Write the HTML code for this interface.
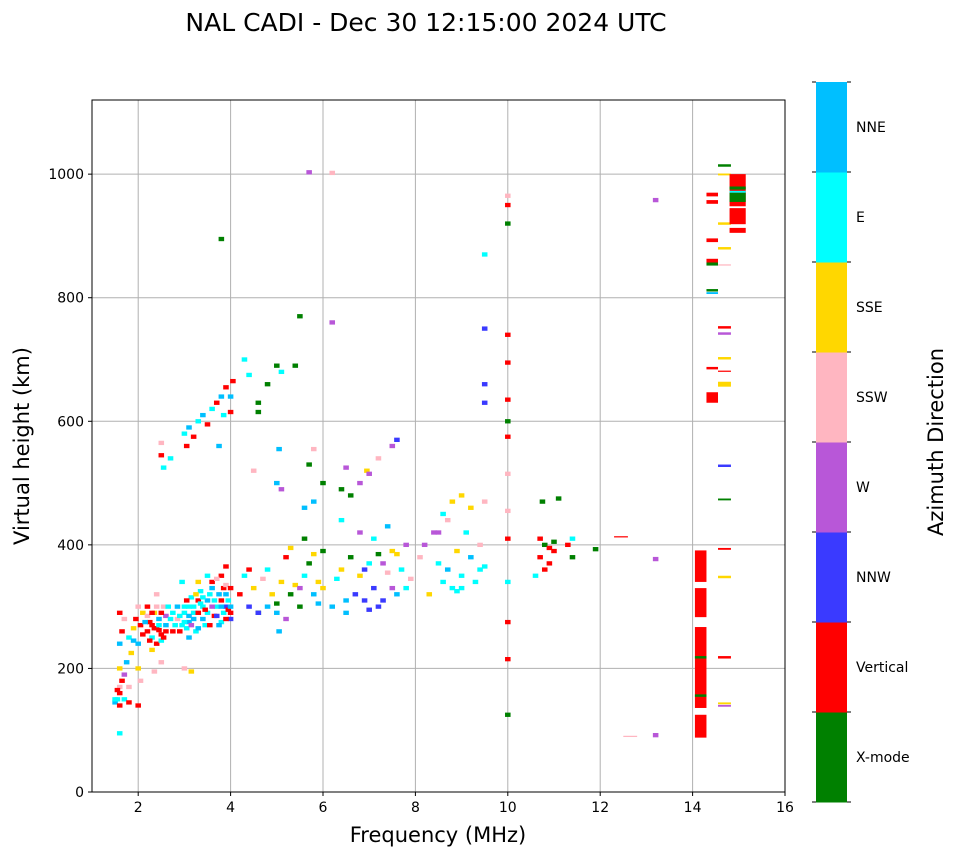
<!DOCTYPE html>
<html><head><meta charset="utf-8">
<style>
body{margin:0;background:#fff;}
svg{display:block;font-family:"DejaVu Sans","Liberation Sans",sans-serif;}
</style></head>
<body>
<svg id="chart" width="958" height="857" viewBox="0 0 958 857" xmlns="http://www.w3.org/2000/svg">
<text x="426" y="31" font-size="25" text-anchor="middle">NAL CADI - Dec 30 12:15:00 2024 UTC</text>
<g id="grid"></g>
<g id="marks"></g>
<rect x="92" y="100" width="693" height="692" fill="none" stroke="#000" stroke-width="1"/>
<g id="axes"></g>
<text x="438" y="842" font-size="21" text-anchor="middle">Frequency (MHz)</text>
<text transform="translate(29,446) rotate(-90)" font-size="21" text-anchor="middle">Virtual height (km)</text>
<g id="cbar"></g>
<text transform="translate(943,442) rotate(-90)" font-size="21" text-anchor="middle">Azimuth Direction</text>
</svg>
<script>
const dirNames=["X-mode","Vertical","NNW","W","SSW","SSE","E","NNE"];
const dirColors=["#008000","#ff0000","#3a3aff","#b857d8","#ffb6c1","#ffd700","#00ffff","#00bfff"];
const xTicks=[2,4,6,8,10,12,14,16];
const yTicks=[0,200,400,600,800,1000];
// points: [freq MHz, height km, direction index]
const points=[
[1.5,145,7],[1.55,150,6],[1.6,140,1],[1.6,160,1],[1.6,170,4],[1.65,180,1],[1.7,190,3],[1.7,150,6],[1.6,200,5],[1.75,210,7],[1.8,145,1],[1.8,170,4],[1.85,225,5],[1.6,240,7],[1.65,260,1],[1.7,280,4],[1.6,290,1],[1.8,250,6],[1.9,265,5],[1.95,280,1],[2.0,300,4],[2.0,140,1],[2.0,240,7],[2.05,270,1],[2.1,290,5],[2.05,180,4],[2.0,200,5],[1.6,95,6],[1.5,150,6],[1.55,165,1],
[2.2,260,1],[2.25,275,1],[2.3,250,6],[2.35,290,5],[2.4,265,1],[2.45,280,7],[2.5,255,1],[2.4,240,1],[2.3,230,5],[2.55,300,4],[2.6,270,7],[2.2,300,1],[2.4,320,4],[2.5,210,4],[2.35,195,4],[2.6,285,3],[2.5,245,6],[2.3,270,1],[2.45,262,1],[2.55,250,1],
[2.2,285,4],[2.25,245,1],[2.35,265,1],[2.45,270,6],[2.5,290,1],[2.6,260,1],[2.65,300,6],[2.75,290,6],[2.75,260,1],[2.85,280,4],[2.95,270,6],[3.0,300,6],[3.05,265,6],[3.1,275,7],[3.2,290,6],[3.25,260,6],[3.3,310,1],[3.4,300,6],[3.45,270,6],[3.5,290,6],[3.55,320,6],[3.65,285,1],[3.7,300,6],[3.75,320,7],[3.8,275,6],[3.85,330,1],[3.9,300,2],[3.95,310,6],[4.0,290,1],[2.1,255,1],[2.15,275,7],[1.9,245,7],[2.3,290,1],[2.4,300,4],[3.15,315,6],[3.35,325,6],[3.6,340,1],[3.8,350,1],[3.9,335,4],
[2.7,280,6],[2.8,270,6],[2.85,300,7],[2.9,260,1],[3.0,290,6],[3.0,275,6],[3.05,310,1],[3.1,285,7],[3.2,300,6],[3.15,270,3],[3.25,320,5],[3.3,290,1],[3.35,305,6],[3.4,280,7],[3.45,295,1],[3.5,310,7],[3.55,270,1],[3.6,300,3],[3.6,330,7],[3.7,285,2],[3.75,270,7],[3.8,310,1],[3.85,290,6],[3.9,320,7],[3.95,295,1],[4.0,330,1],[4.0,280,2],[3.1,250,7],[2.95,340,6],[3.3,340,5],[3.5,350,6],[3.7,345,4],[3.9,365,1],[3.0,200,4],[3.15,195,5],[2.9,285,6],[3.1,300,6],[3.2,280,7],[3.4,315,6],[3.65,310,6],[3.8,300,7],[3.9,280,1],[4.0,300,7],[3.3,265,7],
[4.2,320,1],[4.3,350,6],[4.4,300,2],[4.5,330,5],[4.6,290,0],[4.7,345,4],[4.8,360,6],[4.9,320,5],[5.0,305,0],[5.1,340,5],[5.2,380,1],[5.3,320,0],[5.4,335,5],[5.5,300,0],[5.6,350,6],[5.7,370,0],[5.8,320,7],[5.9,340,5],[6.0,390,0],[5.2,280,3],[4.8,300,7],[5.0,290,7],[5.5,330,3],[5.9,305,7],[6.0,330,5],[4.6,290,2],[5.05,260,7],[4.4,360,1],[5.3,395,5],[5.6,410,0],[5.8,385,5],
[6.2,300,7],[6.3,345,6],[6.4,360,5],[6.5,310,7],[6.6,380,0],[6.7,320,2],[6.8,350,5],[6.9,310,2],[7.0,370,6],[7.1,330,2],[7.2,385,0],[7.3,310,2],[7.4,355,4],[7.5,390,5],[7.6,320,7],[7.7,360,6],[7.8,400,3],[7.9,345,4],[6.5,290,7],[7.0,295,2],[7.2,300,2],[7.5,330,3],[7.8,330,6],[6.8,420,3],[7.1,410,6],[7.4,430,7],[6.9,360,2],[7.3,370,3],[7.6,385,5],
[8.1,380,4],[8.2,400,3],[8.4,420,3],[8.5,370,6],[8.6,340,6],[8.7,360,7],[8.8,330,6],[8.9,390,5],[9.0,350,6],[9.1,420,6],[9.2,380,7],[9.3,340,6],[9.4,400,4],[9.5,470,4],[8.6,450,6],[8.8,470,5],[9.0,480,5],[8.5,420,3],[8.3,320,5],[9.5,365,6],[8.9,325,6],[9.0,330,6],[9.4,360,6],[8.7,440,4],[9.2,460,5],
[10.7,380,1],[10.8,400,0],[10.9,370,1],[11.0,390,1],[10.75,470,0],[11.1,475,0],[11.3,400,1],[11.4,380,0],[11.4,410,6],[10.6,350,6],[10.7,410,1],[10.9,395,1],[10.8,360,1],[11.0,405,0],
[2.5,545,1],[2.55,525,6],[2.5,565,4],[2.7,540,6],[3.0,580,6],[3.05,560,1],[3.1,590,7],[3.2,575,1],[3.3,600,6],[3.4,610,7],[3.5,595,1],[3.6,620,6],[3.7,630,1],[3.8,640,7],[3.85,610,6],[3.9,655,1],[4.0,640,7],[4.05,665,1],[3.75,560,7],[4.0,615,1],[4.3,700,6],[4.4,675,6],[4.6,630,0],[4.6,615,0],[4.8,660,0],[5.0,690,0],[5.1,680,6],[5.4,690,0],[5.5,770,0],[5.7,1003,3],[6.2,1002,4],[6.2,760,3],[3.8,895,0],[5.0,500,7],[5.1,490,3],[5.8,555,4],[6.0,500,0],[5.7,530,0],[6.4,490,0],[6.6,480,0],[6.5,525,3],[6.8,500,3],[6.95,520,5],[7.0,515,3],[7.2,540,4],[7.5,560,3],[7.6,570,2],[5.8,470,7],[5.05,555,7],[4.5,520,4],[5.6,460,7],[6.4,440,6],
[10.0,965,4],[10.0,950,1],[10.0,920,0],[10.0,740,1],[10.0,695,1],[10.0,635,1],[10.0,600,0],[10.0,575,1],[10.0,515,4],[10.0,455,4],[10.0,410,1],[10.0,340,6],[10.0,275,1],[10.0,215,1],[10.0,125,0],[9.5,870,6],[9.5,750,2],[9.5,660,2],[9.5,630,2],[11.9,393,0],[13.2,92,3],[13.2,377,3],[13.2,958,3]
];
// blocks: [freq start, freq end, height low, height high, direction index]
const blocks=[
[14.05,14.3,340,391,1],[14.05,14.3,283,330,1],[14.05,14.3,136,267,1],[14.05,14.3,88,125,1],[14.05,14.3,216,220,0],[14.05,14.3,154,158,0],
[14.3,14.55,630,647,1],[14.3,14.55,964,970,1],[14.3,14.55,952,958,1],[14.3,14.55,890,896,1],[14.3,14.55,857,863,1],[14.3,14.55,852,857,0],[14.3,14.55,810,814,0],[14.3,14.55,806,809,7],[14.3,14.55,684,688,1],
[14.55,14.83,1012,1016,0],[14.55,14.83,998,1001,5],[14.55,14.83,918,922,5],[14.55,14.83,878,882,5],[14.55,14.83,852,854,4],[14.55,14.83,750,754,1],[14.55,14.83,740,744,3],[14.55,14.83,700,704,5],[14.55,14.83,680,682,1],[14.55,14.83,656,664,5],[14.55,14.83,526,530,2],[14.55,14.83,472,475,0],[14.55,14.83,392,395,1],[14.55,14.83,346,350,5],[14.55,14.83,216,220,1],[14.55,14.83,142,145,5],[14.55,14.83,138,141,3],
[14.8,15.15,905,913,1],[14.8,15.15,919,945,1],[14.8,15.15,948,1000,1],[14.8,15.15,955,970,0],[14.8,15.15,975,980,0],[14.8,15.15,970,973,6],
[12.3,12.6,412,414,1],[12.5,12.8,89,91,4]
];
const NS="http://www.w3.org/2000/svg";
const X0=92,X1=785,Y0=792,Y1=100,FMIN=1,FMAX=16,HMIN=0,HMAX=1120;
const xs=f=>X0+(f-FMIN)/(FMAX-FMIN)*(X1-X0);
const ys=h=>Y0-(h-HMIN)/(HMAX-HMIN)*(Y0-Y1);
function mk(tag,attrs,parent){const e=document.createElementNS(NS,tag);for(const k in attrs)e.setAttribute(k,attrs[k]);parent.appendChild(e);return e;}
const grid=document.getElementById('grid'),axes=document.getElementById('axes'),marks=document.getElementById('marks'),cbar=document.getElementById('cbar');
xTicks.forEach(t=>{
  const x=xs(t);
  if(t<FMAX){const g=mk('line',{x1:x,x2:x,y1:Y1,y2:Y0,stroke:'#b0b0b0','stroke-width':1},grid);
  
  }
  mk('line',{x1:x,x2:x,y1:Y0,y2:Y0+4,stroke:'#000'},axes);
  const l=mk('text',{x:x,y:Y0+20,'font-size':14,'text-anchor':'middle'},axes);l.textContent=t;
  
  
});
yTicks.forEach(t=>{
  const y=ys(t);
  const g=mk('line',{x1:X0,x2:X1,y1:y,y2:y,stroke:'#b0b0b0','stroke-width':1},grid);
  
  
  mk('line',{x1:X0-4,x2:X0,y1:y,y2:y,stroke:'#000'},axes);
  const l=mk('text',{x:X0-8,y:y+5,'font-size':14,'text-anchor':'end'},axes);l.textContent=t;
  
  
});
const CW=0.12,CH=7;
points.forEach(p=>{
  const r=mk('rect',{x:xs(p[0]-CW/2),y:ys(p[1]+CH/2),width:xs(CW)-xs(0),height:ys(0)-ys(CH),fill:dirColors[p[2]]},marks);
  
  
});
blocks.forEach(b=>{
  const r=mk('rect',{x:xs(b[0]),y:ys(b[3]),width:xs(b[1])-xs(b[0]),height:ys(b[2])-ys(b[3]),fill:dirColors[b[4]]},marks);
  
  
});
const CX=816,CWd=31,CT=82,CB=802,seg=(CB-CT)/dirNames.length;
dirNames.forEach((n,i)=>{
  const y=CB-(i+1)*seg;
  const r=mk('rect',{x:CX,y:y,width:CWd,height:seg+0.5,fill:dirColors[i]},cbar);
  
  
  const t=mk('text',{x:CX+CWd+9,y:y+seg/2+5,'font-size':14},cbar);t.textContent=n;
  
  
});
for(let i=0;i<=dirNames.length;i++){const y=CB-i*seg;mk('line',{x1:CX+CWd,x2:CX+CWd+4,y1:y,y2:y,stroke:'#000'},cbar);mk('line',{x1:CX-4,x2:CX,y1:y,y2:y,stroke:'#000'},cbar);}
</script>
</body></html>
